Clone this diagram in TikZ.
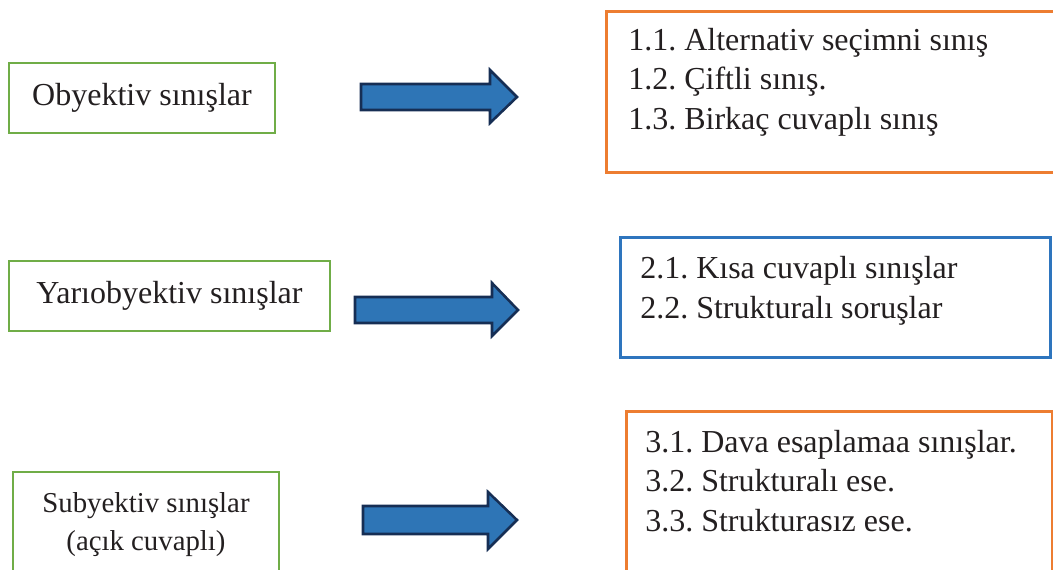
\documentclass[tikz,border=0pt]{standalone}
\usepackage{fontspec}
\setmainfont{Liberation Serif}
\usepackage{xcolor}
\usetikzlibrary{positioning}
\frenchspacing
\definecolor{boxgreen}{RGB}{112,173,71}
\definecolor{boxorange}{RGB}{237,125,49}
\definecolor{boxblue}{RGB}{46,117,190}
\definecolor{arrowfill}{RGB}{46,117,182}
\definecolor{arrowline}{RGB}{22,46,84}
\definecolor{inktext}{RGB}{35,31,32}
\tikzset{
  greenbox/.style={draw=boxgreen, line width=1.7pt, rectangle, inner sep=0pt},
  orangebox/.style={draw=boxorange, line width=1.9pt, rectangle, inner sep=0pt, anchor=north west},
  bluebox/.style={draw=boxblue, line width=2.1pt, rectangle, inner sep=0pt, anchor=north west},
  bigtext/.style={text=inktext, inner sep=0pt, font=\fontsize{24}{29.6}\selectfont},
  listtext/.style={bigtext, align=left, anchor=base west},
  blockarrow/.style={fill=arrowfill, draw=arrowline, line width=1.9pt, line join=miter}
}
\begin{document}
\begin{tikzpicture}[x=0.75pt,y=0.75pt,yscale=-1,xscale=1]
            \useasboundingbox (0,0) rectangle (1053,569);
            % left boxes
            \node [greenbox, minimum width=199.5pt, minimum height=52.5pt] (obj) at (142,98) {};
            \node [greenbox, minimum width=240.75pt, minimum height=52.5pt] (yari) at (169.5,296) {};
            \node [greenbox, minimum width=199.5pt, minimum height=96pt] (sub) at (146,536) {};
            \node [bigtext] (objtxt) at (obj.center) {Obyektiv sınışlar};
            \node [bigtext] (yaritxt) at (yari.center) {Yarıobyektiv sınışlar};
            \node [bigtext, font=\fontsize{21.6}{28.5}\selectfont, align=center, anchor=base] (subtxt) at (146,550) {Subyektiv sınışlar\\(açık cuvaplı)};
            
            % right boxes (base anchor = last line)
            \node [orangebox, minimum width=341.25pt, minimum height=120.75pt] (list1) at (605,10) {};
            \node [bluebox, minimum width=322.5pt, minimum height=90pt] (list2) at (619,236) {};
            \node [orangebox, minimum width=319.5pt, minimum height=142.5pt] (list3) at (625,410) {};
            \node [listtext] (list1txt) at (628,129) {1.1. Alternativ seçimni sınış\\1.2. Çiftli sınış.\\1.3. Birkaç cuvaplı sınış};
            \node [listtext] (list2txt) at (640,318) {2.1. Kısa cuvaplı sınışlar\\2.2. Strukturalı soruşlar};
            \node [listtext] (list3txt) at (645,531) {3.1. Dava esaplamaa sınışlar.\\3.2. Strukturalı ese.\\3.3. Strukturasız ese.};
            
            % block arrows
            \draw [blockarrow] (361,84) -- (490,84) -- (490,70) -- (517,97) -- (490,123) -- (490,110) -- (361,110) -- cycle;
            \draw [blockarrow] (355,297) -- (492,297) -- (492,283) -- (518,310) -- (492,336) -- (492,323) -- (355,323) -- cycle;
            \draw [blockarrow] (363,506) -- (488,506) -- (488,492) -- (517,520) -- (488,549) -- (488,534) -- (363,534) -- cycle;
\end{tikzpicture}
\end{document}
